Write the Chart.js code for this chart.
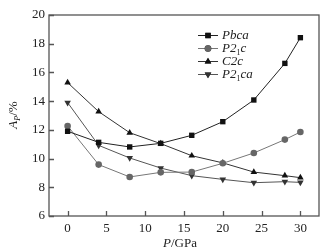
<!DOCTYPE html>
<html>
<head>
<meta charset="UTF-8" />
<title>Ap vs P</title>
<script src="https://cdn.jsdelivr.net/npm/chart.js@4.4.0/dist/chart.umd.min.js"></script>
<style>
  html, body { margin: 0; padding: 0; background: #fff; }
  #wrap { width: 334px; height: 252px; }
</style>
</head>
<body>
<div id="wrap"><canvas id="chart" width="334" height="252"></canvas></div>
<script>
// data
const pressure = [0, 4, 8, 12, 16, 20, 24, 28, 30];
const pbca   = [11.9, 11.13, 10.81, 11.06, 11.62, 12.57, 14.08, 16.63, 18.42];
const p21c   = [12.27, 9.58, 8.72, 9.04, 9.06, 9.67, 10.39, 11.32, 11.85];
const c2c    = [15.29, 13.27, 11.8, 11.04, 10.2, 9.7, 9.06, 8.81, 8.67];
const p21ca  = [13.9, 10.92, 10.04, 9.34, 8.81, 8.55, 8.32, 8.39, 8.34];
const xTicks = [0, 5, 10, 15, 20, 25, 30];
const yTicks = [6, 8, 10, 12, 14, 16, 18, 20];

const SERIF = '"Liberation Serif", "DejaVu Serif", serif';
const axisColor = '#555';

function pts(arr) {
  return arr.map((v, i) => ({ x: pressure[i], y: v }));
}

const series = [
  { name: 'Pbca',  sub: null, data: pbca,  style: 'rect',     rot: 0,   color: '#111', line: '#222' },
  { name: 'P2',    sub: 'c',  data: p21c,  style: 'circle',   rot: 0,   color: '#666', line: '#777' },
  { name: 'C2c',   sub: null, data: c2c,   style: 'triangle', rot: 0,   color: '#111', line: '#333' },
  { name: 'P2',    sub: 'ca', data: p21ca, style: 'triangle', rot: 180, color: '#333', line: '#555' }
];

const datasets = series.map(s => ({
  data: pts(s.data),
  borderColor: s.line,
  borderWidth: 1,
  backgroundColor: s.color,
  pointBackgroundColor: s.color,
  pointBorderColor: s.color,
  pointStyle: s.style,
  pointRotation: s.rot,
  pointRadius: s.style === 'circle' ? 3.3 : 3.8,
  pointBorderWidth: 0,
  tension: 0
}));

// draw frame, inward ticks, legend and axis titles
const decor = {
  id: 'decor',
  afterDraw(chart) {
    const { ctx, chartArea: a, scales } = chart;
    ctx.save();
    ctx.strokeStyle = axisColor;
    ctx.lineWidth = 1.3;
    ctx.strokeRect(a.left, a.top, a.right - a.left, a.bottom - a.top);
    ctx.beginPath();
    xTicks.forEach(t => {
      const px = Math.round(scales.x.getPixelForValue(t)) + 0.5;
      ctx.moveTo(px, a.bottom);
      ctx.lineTo(px, a.bottom - 5);
    });
    yTicks.forEach(t => {
      const py = Math.round(scales.y.getPixelForValue(t)) + 0.5;
      ctx.moveTo(a.left, py);
      ctx.lineTo(a.left + 5, py);
    });
    ctx.stroke();

    // legend
    const lx = 198, ly = 35, gap = 13;
    series.forEach((s, i) => {
      const y = ly + i * gap;
      ctx.strokeStyle = s.line;
      ctx.lineWidth = 1;
      ctx.beginPath();
      ctx.moveTo(lx, y + 0.5);
      ctx.lineTo(lx + 20, y + 0.5);
      ctx.stroke();
      Chart.helpers.drawPoint(ctx, {
        pointStyle: s.style, rotation: s.rot,
        radius: s.style === 'circle' ? 3.3 : 3.8, borderWidth: 0
      }, lx + 10, y + 0.5);
      ctx.fillStyle = s.color;
      ctx.fill();
      ctx.fillStyle = '#222';
      ctx.textBaseline = 'middle';
      ctx.textAlign = 'left';
      ctx.font = 'italic 13px ' + SERIF;
      let tx = lx + 24;
      ctx.fillText(s.name, tx, y + 1);
      tx += ctx.measureText(s.name).width;
      if (s.sub) {
        ctx.font = '8px ' + SERIF;
        ctx.fillText('1', tx, y + 5);
        tx += ctx.measureText('1').width;
        ctx.font = 'italic 13px ' + SERIF;
        ctx.fillText(s.sub, tx, y + 1);
      }
    });

    // x title: P/GPa
    ctx.fillStyle = '#222';
    ctx.textBaseline = 'middle';
    ctx.textAlign = 'left';
    ctx.font = 'italic 13px ' + SERIF;
    const wP = ctx.measureText('P').width;
    ctx.font = '13px ' + SERIF;
    const wG = ctx.measureText('/GPa').width;
    let xs = 180 - (wP + wG) / 2;
    ctx.font = 'italic 13px ' + SERIF;
    ctx.fillText('P', xs, 244);
    ctx.font = '13px ' + SERIF;
    ctx.fillText('/GPa', xs + wP, 244);

    // y title: A_P/%
    ctx.translate(14, 115);
    ctx.rotate(-Math.PI / 2);
    ctx.font = 'italic 13px ' + SERIF;
    const wA = ctx.measureText('A').width;
    ctx.font = 'italic 8px ' + SERIF;
    const wS = ctx.measureText('P').width;
    ctx.font = '13px ' + SERIF;
    const wPc = ctx.measureText('/%').width;
    let ys = -(wA + wS + wPc) / 2;
    ctx.font = 'italic 13px ' + SERIF;
    ctx.fillText('A', ys, 0);
    ctx.font = 'italic 8px ' + SERIF;
    ctx.fillText('P', ys + wA, 4);
    ctx.font = '13px ' + SERIF;
    ctx.fillText('/%', ys + wA + wS, 0);
    ctx.restore();
  }
};

const config = {
  type: 'line',
  data: { datasets: datasets },
  options: {
    responsive: false,
    animation: false,
    layout: { padding: { top: 15, right: 15, left: 0, bottom: 0 } },
    plugins: { legend: { display: false }, tooltip: { enabled: false } },
    scales: {
      x: {
        type: 'linear',
        min: -2.4,
        max: 32.4,
        afterBuildTicks: s => { s.ticks = xTicks.map(v => ({ value: v })); },
        afterFit: s => { s.height = 36; },
        grid: { display: false, drawTicks: false },
        border: { display: false },
        ticks: { color: '#222', font: { family: SERIF, size: 13 }, padding: 5 }
      },
      y: {
        min: 6,
        max: 20,
        afterBuildTicks: s => { s.ticks = yTicks.map(v => ({ value: v })); },
        afterFit: s => { s.width = 49; },
        grid: { display: false, drawTicks: false },
        border: { display: false },
        ticks: { color: '#222', font: { family: SERIF, size: 13 }, padding: 4 }
      }
    }
  },
  plugins: [decor]
};

const chart = new Chart(document.getElementById('chart'), config);
</script>
</body>
</html>
